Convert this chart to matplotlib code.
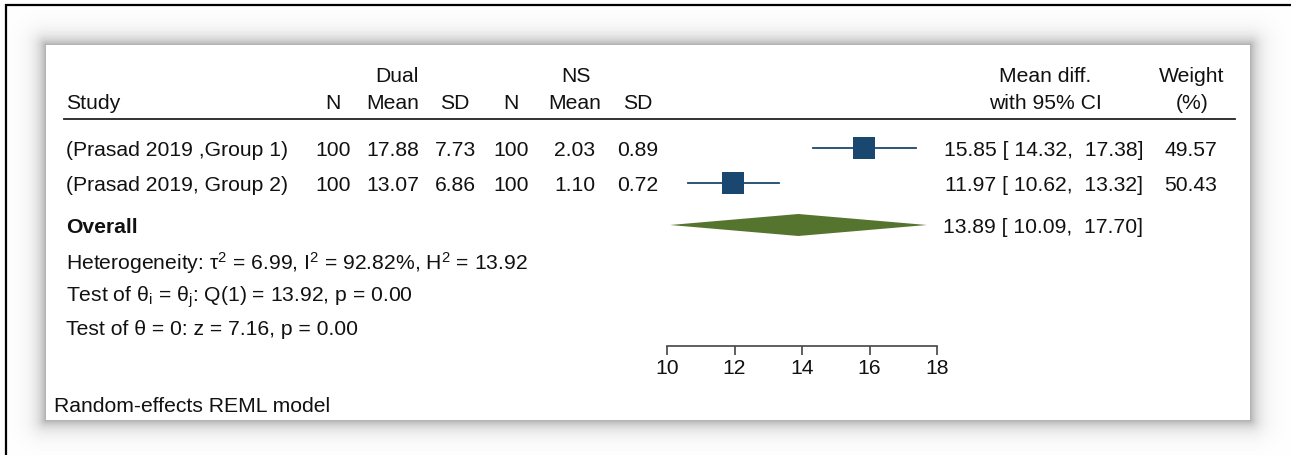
import numpy as np
import matplotlib
matplotlib.use("Agg")
import matplotlib.pyplot as plt
from matplotlib.patches import Polygon

plt.rcParams['font.family'] = ['Liberation Sans', 'DejaVu Sans']
plt.rcParams['mathtext.fontset'] = 'custom'
plt.rcParams['mathtext.rm'] = 'Liberation Sans'
plt.rcParams['mathtext.it'] = 'Liberation Sans:italic'

# study-level data
studies = ['(Prasad 2019 ,Group 1)', '(Prasad 2019, Group 2)']
dual_n = [100, 100]
dual_mean = [17.88, 13.07]
dual_sd = [7.73, 6.86]
ns_n = [100, 100]
ns_mean = [2.03, 1.10]
ns_sd = [0.89, 0.72]
md = [15.85, 11.97]
ci_lo = [14.32, 10.62]
ci_hi = [17.38, 13.32]
weights = [49.57, 50.43]

# pooled estimate
overall_md = 13.89
overall_lo = 10.09
overall_hi = 17.70

xticks = [10, 12, 14, 16, 18]

W, H = 1291, 455
fig = plt.figure(figsize=(W / 100, H / 100), dpi=100)
bg = fig.add_axes([0, 0, 1, 1])
bg.set_xlim(0, W)
bg.set_ylim(H, 0)
bg.axis('off')

# soft drop shadow round the white panel
px0, px1, py0, py1 = 46, 1250, 45, 420
xx, yy = np.meshgrid(np.arange(W) + 0.5, np.arange(H) + 0.5)
dx = np.maximum(np.maximum(px0 - xx, xx - px1), 0)
dy = np.maximum(np.maximum(py0 - yy, yy - py1), 0)
d = np.sqrt(dx ** 2 + dy ** 2)
shade = 1 - 0.31 * np.exp(-d / 8.5)
shade[(xx > px0) & (xx < px1) & (yy > py0) & (yy < py1)] = 1.0
bg.imshow(np.dstack([shade] * 3), extent=(0, W, H, 0), zorder=0, interpolation='nearest')
bg.set_xlim(0, W)
bg.set_ylim(H, 0)

# outer frame (top and left only)
bg.plot([5, W], [4.5, 4.5], color='black', lw=1.6, zorder=3, solid_capstyle='butt')
bg.plot([6, 6], [4, H], color='black', lw=1.6, zorder=3, solid_capstyle='butt')

fs = 15.2
txt = dict(fontsize=fs, color='#111111', va='center')
dy_txt = 2.5  # nudge so glyphs sit on the row line

# header
hdr1_y, hdr2_y = 74 + dy_txt, 101 + dy_txt
bg.text(66, hdr2_y, 'Study', ha='left', **txt)
cols = [333, 393, 455, 511, 575, 638]
for x, h in zip(cols, ['N', 'Mean', 'SD', 'N', 'Mean', 'SD']):
    bg.text(x, hdr2_y, h, ha='center', **txt)
bg.text(397, hdr1_y, 'Dual', ha='center', **txt)
bg.text(576, hdr1_y, 'NS', ha='center', **txt)
bg.text(1045, hdr1_y, 'Mean diff.', ha='center', **txt)
bg.text(1045, hdr2_y, 'with 95% CI', ha='center', **txt)
bg.text(1192, hdr1_y, 'Weight', ha='center', **txt)
bg.text(1192, hdr2_y, '(%)', ha='center', **txt)
bg.plot([64, 1235], [119, 119], color='#222222', lw=1.3)

row_y = [148, 183]
overall_y = 225
for i, y in enumerate(row_y):
    ty = y + dy_txt
    bg.text(66, ty, studies[i], ha='left', **txt)
    vals = [f'{dual_n[i]}', f'{dual_mean[i]:.2f}', f'{dual_sd[i]:.2f}',
            f'{ns_n[i]}', f'{ns_mean[i]:.2f}', f'{ns_sd[i]:.2f}']
    for x, v in zip(cols, vals):
        bg.text(x, ty, v, ha='center', **txt)
    bg.text(1143, ty, f'{md[i]:.2f} [ {ci_lo[i]:.2f},  {ci_hi[i]:.2f}]', ha='right', **txt)
    bg.text(1191, ty, f'{weights[i]:.2f}', ha='center', **txt)

bg.text(66, overall_y + dy_txt, 'Overall', ha='left', fontweight='bold', **txt)
bg.text(1143, overall_y + dy_txt, f'{overall_md:.2f} [ {overall_lo:.2f},  {overall_hi:.2f}]',
        ha='right', **txt)

bg.text(66, 261 + dy_txt, r'Heterogeneity: τ$^{2}$ = 6.99, I$^{2}$ = 92.82%, H$^{2}$ = 13.92',
        ha='left', **txt)
bg.text(66, 295 + dy_txt, r'Test of θ$_{\mathrm{i}}$ = θ$_{\mathrm{j}}$: Q(1) = 13.92, p = 0.00',
        ha='left', **txt)
bg.text(66, 327 + dy_txt, 'Test of θ = 0: z = 7.16, p = 0.00', ha='left', **txt)
bg.text(54, 404 + dy_txt, 'Random-effects REML model', ha='left', **txt)

# forest panel: x in effect units, y shares the row positions above
fx0, fx1, fy_top, fy_bot = 667, 937, 120, 346
ax = fig.add_axes([fx0 / W, (H - fy_bot) / H, (fx1 - fx0) / W, (fy_bot - fy_top) / H])
ax.set_xlim(xticks[0], xticks[-1])
ax.set_ylim(fy_bot, fy_top)
ax.patch.set_alpha(0)
for s in ['top', 'right', 'left']:
    ax.spines[s].set_visible(False)
ax.spines['bottom'].set_color('#444444')
ax.spines['bottom'].set_linewidth(1.2)
ax.set_yticks([])
ax.set_xticks(xticks)
ax.tick_params(axis='x', length=6.5, width=1.2, color='#444444', labelsize=fs, pad=3,
               labelcolor='#111111')

navy = '#1a476f'
for i, y in enumerate(row_y):
    ax.plot([ci_lo[i], ci_hi[i]], [y, y], color=navy, lw=1.3, zorder=2)
    ax.scatter(md[i], y, marker='s', s=weights[i] * 5.0, color=navy, zorder=3, linewidths=0)

dia = Polygon([(overall_lo, overall_y), (overall_md, overall_y - 11),
               (overall_hi, overall_y), (overall_md, overall_y + 11)],
              closed=True, color='#55752f', lw=0)
ax.add_patch(dia)

fig.savefig('out.png', dpi=100)
